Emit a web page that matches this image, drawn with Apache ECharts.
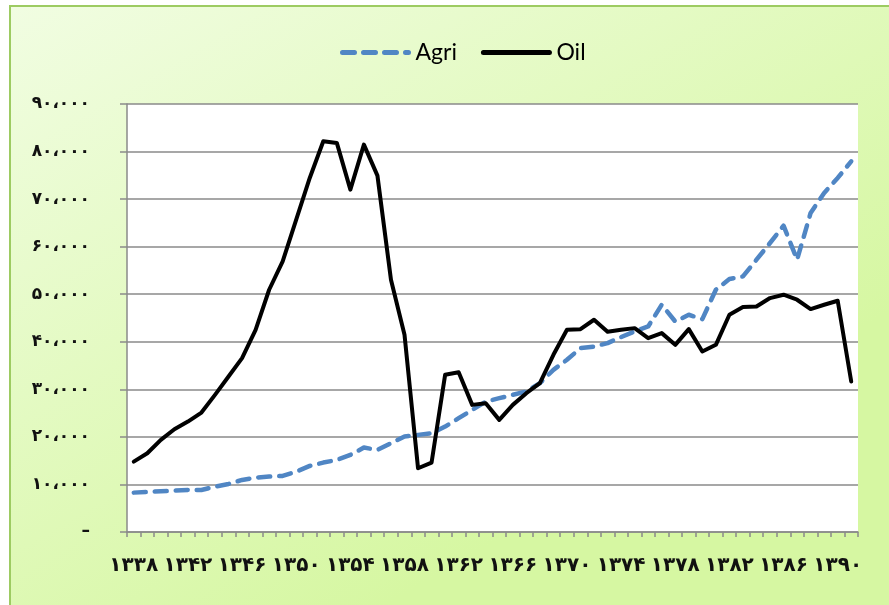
<!DOCTYPE html>
<html>
<head>
<meta charset="utf-8">
<script src="https://cdn.jsdelivr.net/npm/echarts@6/dist/echarts.min.js"></script>
<style>
  html, body { margin: 0; padding: 0; background: #fff; }
  #chart { width: 889px; height: 605px; }
</style>
</head>
<body>
<div id="chart"></div>
<script>
// years 1338 .. 1391 (solar hijri)
const years = [];
for (let y = 1338; y <= 1391; y++) years.push(String(y));

const agri = [
  8280, 8420, 8560, 8700, 8840, 8840, 9540, 10100, 10950, 11430,
  11650, 11790, 12700, 13890, 14600, 15160, 16210, 17750, 17260, 18670,
  20070, 20420, 20770, 22170, 23930, 25680, 27430, 28140, 28840, 29540,
  31300, 34100, 36210, 38670, 39000, 39720, 40980, 42170, 43220, 47780,
  44270, 45680, 44770, 50940, 53190, 53750, 57260, 60770, 64410, 57260,
  67090, 71300, 74450, 77950
];

const oil = [
  14800, 16560, 19370, 21610, 23220, 25120, 28840, 32700, 36560, 42520,
  50940, 56900, 65680, 74450, 82170, 81820, 71990, 81460, 74940, 53050,
  41470, 13400, 14600, 33050, 33600, 26730, 27080, 23580, 26730, 29190,
  31300, 37260, 42520, 42660, 44630, 42100, 42520, 42870, 40770, 41820,
  39360, 42660, 37950, 39360, 45680, 47300, 47430, 49190, 49890, 48840,
  46880, 47780, 48630, 31640
];

const faDigits = '۰۱۲۳۴۵۶۷۸۹';
function toFa(s) {
  return String(s).replace(/[0-9]/g, d => faDigits[+d]);
}
function yLabel(v) {
  if (v === 0) return '–';
  // thousands separator is the arabic comma
  const s = String(v).replace(/\B(?=(\d{3})+(?!\d))/g, '،');
  return toFa(s);
}

const chart = echarts.init(document.getElementById('chart'));

const option = {
  backgroundColor: '#fff',
  animation: false,
  graphic: [
    {
      type: 'rect',
      z: -10,
      shape: { x: 10, y: 6, width: 890, height: 610 },
      style: {
        fill: new echarts.graphic.LinearGradient(0, 0, 0.4, 1, [
          { offset: 0, color: '#f1fde2' },
          { offset: 1, color: '#d6f7a2' }
        ]),
        stroke: '#9dcb62',
        lineWidth: 2
      }
    }
  ],
  legend: {
    left: 335,
    top: 36,
    itemWidth: 66,
    itemHeight: 14,
    itemGap: 24,
    itemStyle: { opacity: 0 },
    lineStyle: { width: 5, cap: 'round' },
    textStyle: { fontFamily: 'Lato', fontSize: 23, color: '#000', padding: [0, 0, 0, 2] },
    data: ['Agri', 'Oil']
  },
  grid: {
    left: 127,
    right: 31,
    top: 104,
    bottom: 73,
    show: true,
    backgroundColor: '#fff',
    borderWidth: 0
  },
  xAxis: {
    type: 'category',
    data: years,
    boundaryGap: true,
    axisLine: { lineStyle: { color: '#8a8a8a', width: 1.5 } },
    axisTick: { show: true, interval: 0, length: 5, lineStyle: { color: '#8a8a8a', width: 1.5 } },
    axisLabel: {
      interval: 3,
      margin: 24,
      fontFamily: 'DejaVu Sans',
      fontSize: 20,
      fontWeight: 'bold',
      color: '#111',
      formatter: v => toFa(v)
    },
    splitLine: { show: false }
  },
  yAxis: {
    type: 'value',
    min: 0,
    max: 90000,
    interval: 10000,
    axisLine: { show: true, lineStyle: { color: '#8a8a8a', width: 1.5 } },
    axisTick: { show: true, length: 7, lineStyle: { color: '#8a8a8a', width: 1.5 } },
    axisLabel: {
      margin: 37,
      fontFamily: 'DejaVu Sans',
      fontSize: 17,
      fontWeight: 'bold',
      color: '#111',
      formatter: yLabel
    },
    splitLine: { lineStyle: { color: '#8a8a8a', width: 1.5 } }
  },
  series: [
    {
      name: 'Agri',
      type: 'line',
      data: agri,
      symbol: 'none',
      color: '#5086c4',
      lineStyle: { color: '#5086c4', width: 4.5, type: [12, 9], cap: 'round', join: 'round' },
      z: 2
    },
    {
      name: 'Oil',
      type: 'line',
      data: oil,
      symbol: 'none',
      color: '#000',
      lineStyle: { color: '#000', width: 4, cap: 'round', join: 'round' },
      z: 3
    }
  ]
};

chart.setOption(option);
</script>
</body>
</html>
